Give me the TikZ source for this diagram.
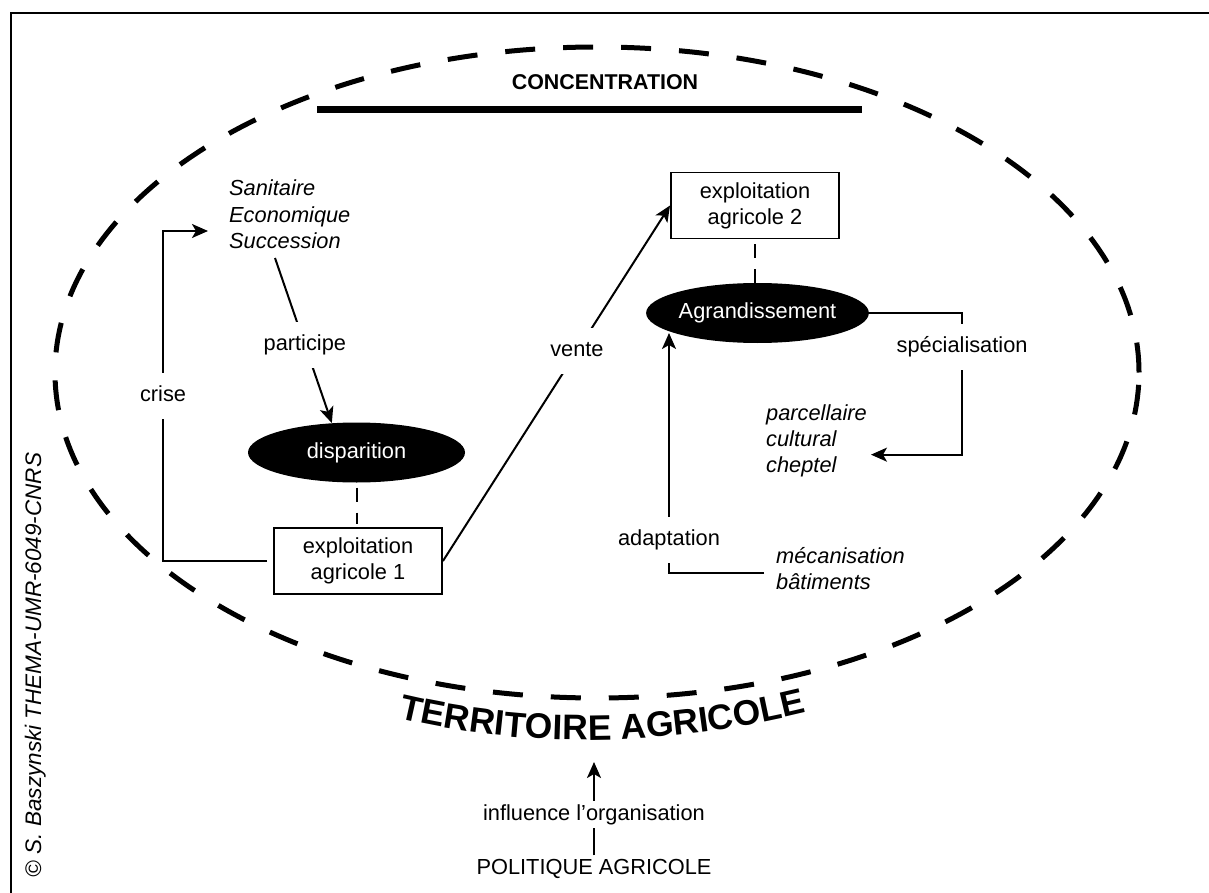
\documentclass[tikz,border=0pt]{standalone}
\usepackage{fontspec}
\setmainfont{Liberation Sans}
\usetikzlibrary{arrows.meta,shapes.geometric,decorations.text}
\begin{document}
\begin{tikzpicture}[x=1pt,y=-1pt]
\tikzset{
 txt/.style={font=\fontsize{21.8}{26}\selectfont},
 itl/.style={font=\fontsize{21.8}{26.3}\selectfont\itshape, align=left, inner sep=0pt},
 lbl/.style={txt, fill=white, inner xsep=3pt, inner ysep=13pt, text height=15.5pt, text depth=4.5pt},
 box/.style={txt, draw, line width=1.9pt, minimum width=168pt, minimum height=66pt, align=center, inner sep=0pt},
 blob/.style={txt, ellipse, fill=black, text=white, minimum width=217pt, minimum height=60pt, inner sep=0pt},
 ln/.style={line width=2pt},
 conn/.style={ln, -{Stealth[length=16pt,width=14pt,inset=4pt]}},
 dln/.style={ln, dash pattern=on 14pt off 11pt},
 territ/.style={line width=5pt, dash pattern=on 30pt off 28pt},
}
\useasboundingbox (0,0) rectangle (1209,893);
% frame
\coordinate (fbl) at (11,893);
\coordinate (ftl) at (11,13);
\coordinate (ftr) at (1209,13);
\draw[line width=1.4pt] (fbl) -- (ftl) -- (ftr);
% territory
\node[territ, draw, ellipse, minimum width=1084pt, minimum height=651pt, inner sep=0pt] (terr) at (597,372.5) {};
% concentration
\node[font=\fontsize{21.4}{24}\selectfont\bfseries, anchor=base] (conc) at (605,90) {CONCENTRATION};
\coordinate (barL) at (317,110);
\coordinate (barR) at (862,110);
\draw[line width=7pt] (barL) -- (barR);
% nodes
\node[itl, anchor=north west] (causes) at (229,180) {Sanitaire\\Economique\\Succession};
\node[blob] (disp) at (356.5,452.5) {disparition};
\node[box] (ex1) at (358,561) {exploitation\\agricole 1};
\node[box] (ex2) at (755,205.5) {exploitation\\agricole 2};
\node[blob] (agr) at (757.5,313) {Agrandissement};
\node[itl, anchor=north west] (plist) at (766,404) {parcellaire\\cultural\\cheptel};
\node[itl, anchor=north west] (mec) at (776,547) {mécanisation\\bâtiments};
\node[txt, anchor=base] (pa) at (594,874) {POLITIQUE AGRICOLE};
\node[txt, anchor=base] (inf) at (594,820) {influence l'organisation};
\coordinate (tatip) at (594,762);
\node[font=\fontsize{22.5}{26}\selectfont\itshape, rotate=90, anchor=base] (copy) at (41,665) {© S. Baszynski THEMA-UMR-6049-CNRS};
% curved title
\path[decorate, decoration={text along path, text align=center, text={|\fontsize{35.5}{35}\selectfont\bfseries|TERRITOIRE AGRICOLE}}] (378,713) .. controls (521,751) and (669,749) .. (827,707);
% connectors
\coordinate (crtip) at (208,231);
\draw[conn, shorten <=6pt] (ex1.west) -- ++(-110,0) |- node[lbl,pos=0.25]{crise} (crtip);
\coordinate (pst) at (275,258);
\draw[conn] (pst) -- node[lbl,pos=0.525]{participe} (disp.130);
\draw[dln, shorten <=5pt, shorten >=3pt] (disp.south) -- (disp.south |- ex1.north);
\draw[dln, shorten <=5pt] (ex2.south) -- (ex2.south |- agr.north);
\draw[conn] (ex1.east) -- node[lbl,pos=0.59]{vente} (ex2.west);
\draw[conn] (agr.east) -- ++(93,0) |- node[lbl,pos=0.12]{spécialisation} ([xshift=4pt,yshift=-14pt]plist.east);
\coordinate (adtip) at (669,333);
\draw[conn] ([xshift=-12pt,yshift=-4.5pt]mec.west) -| node[lbl,pos=0.569]{adaptation} (adtip);
\draw[ln] (pa.north) -- (inf.south);
\draw[conn] (inf.north) -- (tatip);
\end{tikzpicture}
\end{document}
